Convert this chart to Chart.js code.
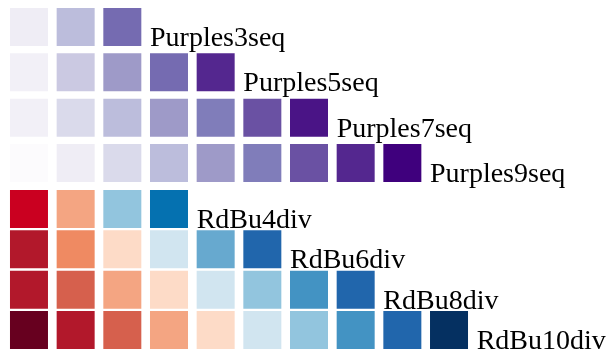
<!DOCTYPE html>
<html>
<head>
<meta charset="utf-8">
<script src="https://cdn.jsdelivr.net/npm/chart.js@4/dist/chart.umd.min.js"></script>
<style>
  html, body { margin: 0; padding: 0; background: #fff; }
  canvas { display: block; }
</style>
</head>
<body>
<canvas id="paletteChart" width="609" height="356"></canvas>
<script>
// Palette names, top to bottom
const paletteNames = ['Purples3seq', 'Purples5seq', 'Purples7seq', 'Purples9seq',
                      'RdBu4div', 'RdBu6div', 'RdBu8div', 'RdBu10div'];

// Colours of each palette (ColorBrewer)
const purples3 = ['#efedf5', '#bcbddc', '#756bb1'];
const purples5 = ['#f2f0f7', '#cbc9e2', '#9e9ac8', '#756bb1', '#54278f'];
const purples7 = ['#f2f0f7', '#dadaeb', '#bcbddc', '#9e9ac8', '#807dba', '#6a51a3', '#4a1486'];
const purples9 = ['#fcfbfd', '#efedf5', '#dadaeb', '#bcbddc', '#9e9ac8', '#807dba', '#6a51a3', '#54278f', '#3f007d'];
const rdbu4 = ['#ca0020', '#f4a582', '#92c5de', '#0571b0'];
const rdbu6 = ['#b2182b', '#ef8a62', '#fddbc7', '#d1e5f0', '#67a9cf', '#2166ac'];
const rdbu8 = ['#b2182b', '#d6604d', '#f4a582', '#fddbc7', '#d1e5f0', '#92c5de', '#4393c3', '#2166ac'];
const rdbu10 = ['#67001f', '#b2182b', '#d6604d', '#f4a582', '#fddbc7', '#d1e5f0', '#92c5de', '#4393c3', '#2166ac', '#053061'];

const palettes = [purples3, purples5, purples7, purples9, rdbu4, rdbu6, rdbu8, rdbu10];

// Layout: row steps (sequential rows are a bit further apart than the diverging ones)
const SQUARE = 38;
const seqStep = 1, divStep = 0.89, blockGap = 1.015;

function rowPosition(i) {
    if (i < 4) return i * seqStep;
    return 3 * seqStep + blockGap + (i - 4) * divStep;
}

const datasets = palettes.map((colors, i) => ({
    label: paletteNames[i],
    data: colors.map((c, k) => ({ x: k, y: rowPosition(i) })),
    pointStyle: 'rect',
    pointRadius: SQUARE / Math.SQRT2,
    pointHoverRadius: SQUARE / Math.SQRT2,
    pointBackgroundColor: colors,
    pointBorderWidth: 0,
    clip: false
}));

// Draws the palette name right after the last square of the row
const paletteLabels = {
    id: 'paletteLabels',
    afterDatasetsDraw(chart) {
        const ctx = chart.ctx;
        const xs = chart.scales.x, ys = chart.scales.y;
        ctx.save();
        ctx.font = '28px "Liberation Serif", "Times New Roman", serif';
        ctx.fillStyle = '#000';
        ctx.textBaseline = 'alphabetic';
        ctx.textAlign = 'left';
        chart.data.datasets.forEach((ds, i) => {
            const n = ds.data.length;
            const x = xs.getPixelForValue(n) - SQUARE / 2;
            const y = ys.getPixelForValue(ds.data[0].y) + SQUARE / 2;
            ctx.fillText(ds.label, x, y);
        });
        ctx.restore();
    }
};

new Chart(document.getElementById('paletteChart').getContext('2d'), {
    type: 'scatter',
    data: { datasets: datasets },
    options: {
        responsive: false,
        animation: false,
        devicePixelRatio: 1,
        layout: { padding: 0, autoPadding: false },
        events: [],
        plugins: {
            legend: { display: false },
            tooltip: { enabled: false }
        },
        scales: {
            x: { type: 'linear', display: false, min: -0.621, max: 12.428 },
            y: { type: 'linear', display: false, reverse: true, min: -0.596, max: 7.258 }
        }
    },
    plugins: [paletteLabels]
});
</script>
</body>
</html>
